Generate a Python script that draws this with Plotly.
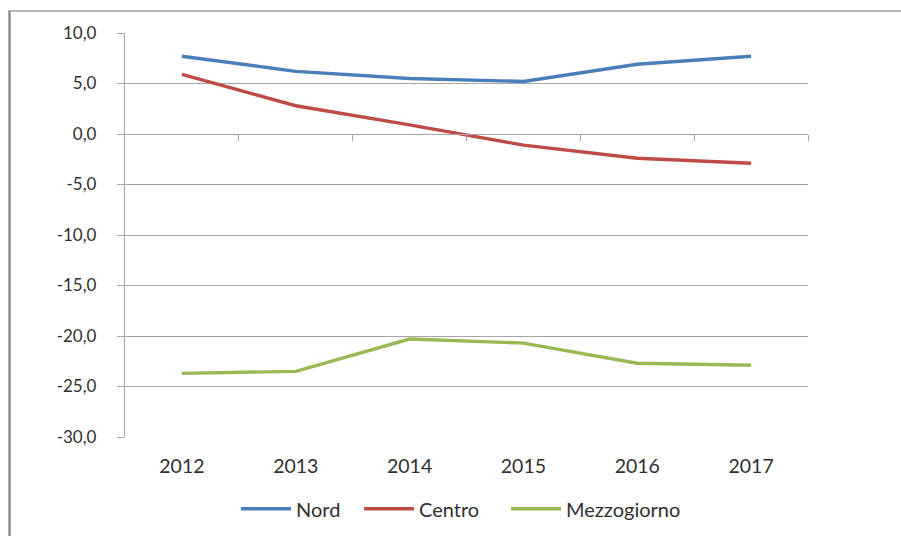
import plotly.graph_objects as go

years = ["2012", "2013", "2014", "2015", "2016", "2017"]
nord = [7.7, 6.2, 5.5, 5.2, 6.9, 7.7]
centro = [5.9, 2.8, 0.9, -1.1, -2.4, -2.9]
mezzogiorno = [-23.7, -23.5, -20.3, -20.7, -22.7, -22.9]

ytick_vals = [10, 5, 0, -5, -10, -15, -20, -25, -30]
ytick_text = ["10,0", "5,0", "0,0", "-5,0", "-10,0", "-15,0", "-20,0", "-25,0", "-30,0"]

series = [
    ("Nord", nord, "#4A7EBB", "legend"),
    ("Centro", centro, "#BE4B48", "legend2"),
    ("Mezzogiorno", mezzogiorno, "#98B954", "legend3"),
]

xpos = list(range(len(years)))
FONT = "Lato"
TXT = "#303030"
GRID = "#A6A6A6"

fig = go.Figure()
for name, vals, col, lg in series:
    fig.add_trace(go.Scatter(x=xpos, y=vals, mode="lines", name=name,
                             legend=lg, line=dict(color=col, width=3.4)))

# invisible trace to carry the secondary (zero-crossing) category axis
fig.add_trace(go.Scatter(x=xpos, y=nord, xaxis="x2", mode="lines",
                         line=dict(width=0), opacity=0, showlegend=False,
                         hoverinfo="skip"))

PL, PW, PB, PH = 125, 683, 437.3, 403.8   # plot area geometry in px


def legend_at(px_left):
    return dict(orientation="h", x=(px_left - PL) / PW, xanchor="left",
                y=(PB - 509) / PH, yanchor="middle",
                font=dict(size=20, color=TXT), itemwidth=50,
                bgcolor="rgba(0,0,0,0)")


ymin, ymax = -30, 10
fig.update_layout(
    width=901, height=536,
    margin=dict(l=125, r=93, t=33, b=99, autoexpand=False),
    paper_bgcolor="white", plot_bgcolor="white",
    font=dict(family=FONT, size=17, color=TXT),
    showlegend=True,
    legend=legend_at(236),
    legend2=legend_at(359),
    legend3=legend_at(506),
    xaxis=dict(range=[-0.5, len(years) - 0.5], tickvals=xpos, ticktext=years,
               showgrid=False, zeroline=False, showline=False, ticks="",
               ticklabelstandoff=15, tickfont=dict(size=19.5, color=TXT)),
    xaxis2=dict(range=[-0.5, len(years) - 0.5], overlaying="x", anchor="free",
                position=(0 - ymin) / (ymax - ymin),
                tickvals=[i + 0.5 for i in xpos], showticklabels=False,
                ticks="outside", ticklen=6, tickcolor=GRID, tickwidth=1.3,
                showline=True, linecolor=GRID, linewidth=1.3,
                showgrid=False, zeroline=False),
    yaxis=dict(range=[ymin, ymax], tickvals=ytick_vals, ticktext=ytick_text,
               showgrid=True, gridcolor=GRID, gridwidth=1.3,
               zeroline=False, showline=True, linecolor=GRID, linewidth=1.3,
               ticks="outside", ticklen=7, tickcolor=GRID, tickwidth=1.3,
               tickfont=dict(size=17, color=TXT), ticklabelstandoff=17),
    shapes=[
        dict(type="line", xref="paper", yref="paper",
             x0=(9.5 - PL) / PW, x1=(9.5 - PL) / PW,
             y0=-0.4, y1=(PB - 11) / PH,
             line=dict(color="#8E8E8E", width=2.5), layer="below"),
        dict(type="line", xref="paper", yref="paper",
             x0=(8.5 - PL) / PW, x1=1.3,
             y0=(PB - 11.5) / PH, y1=(PB - 11.5) / PH,
             line=dict(color="#A0A0A0", width=1.5), layer="below"),
    ],
)

fig.write_html(
    "out.html",
    config={"displayModeBar": False},
    post_script="document.body.style.margin='0';document.body.style.overflow='hidden';",
)
